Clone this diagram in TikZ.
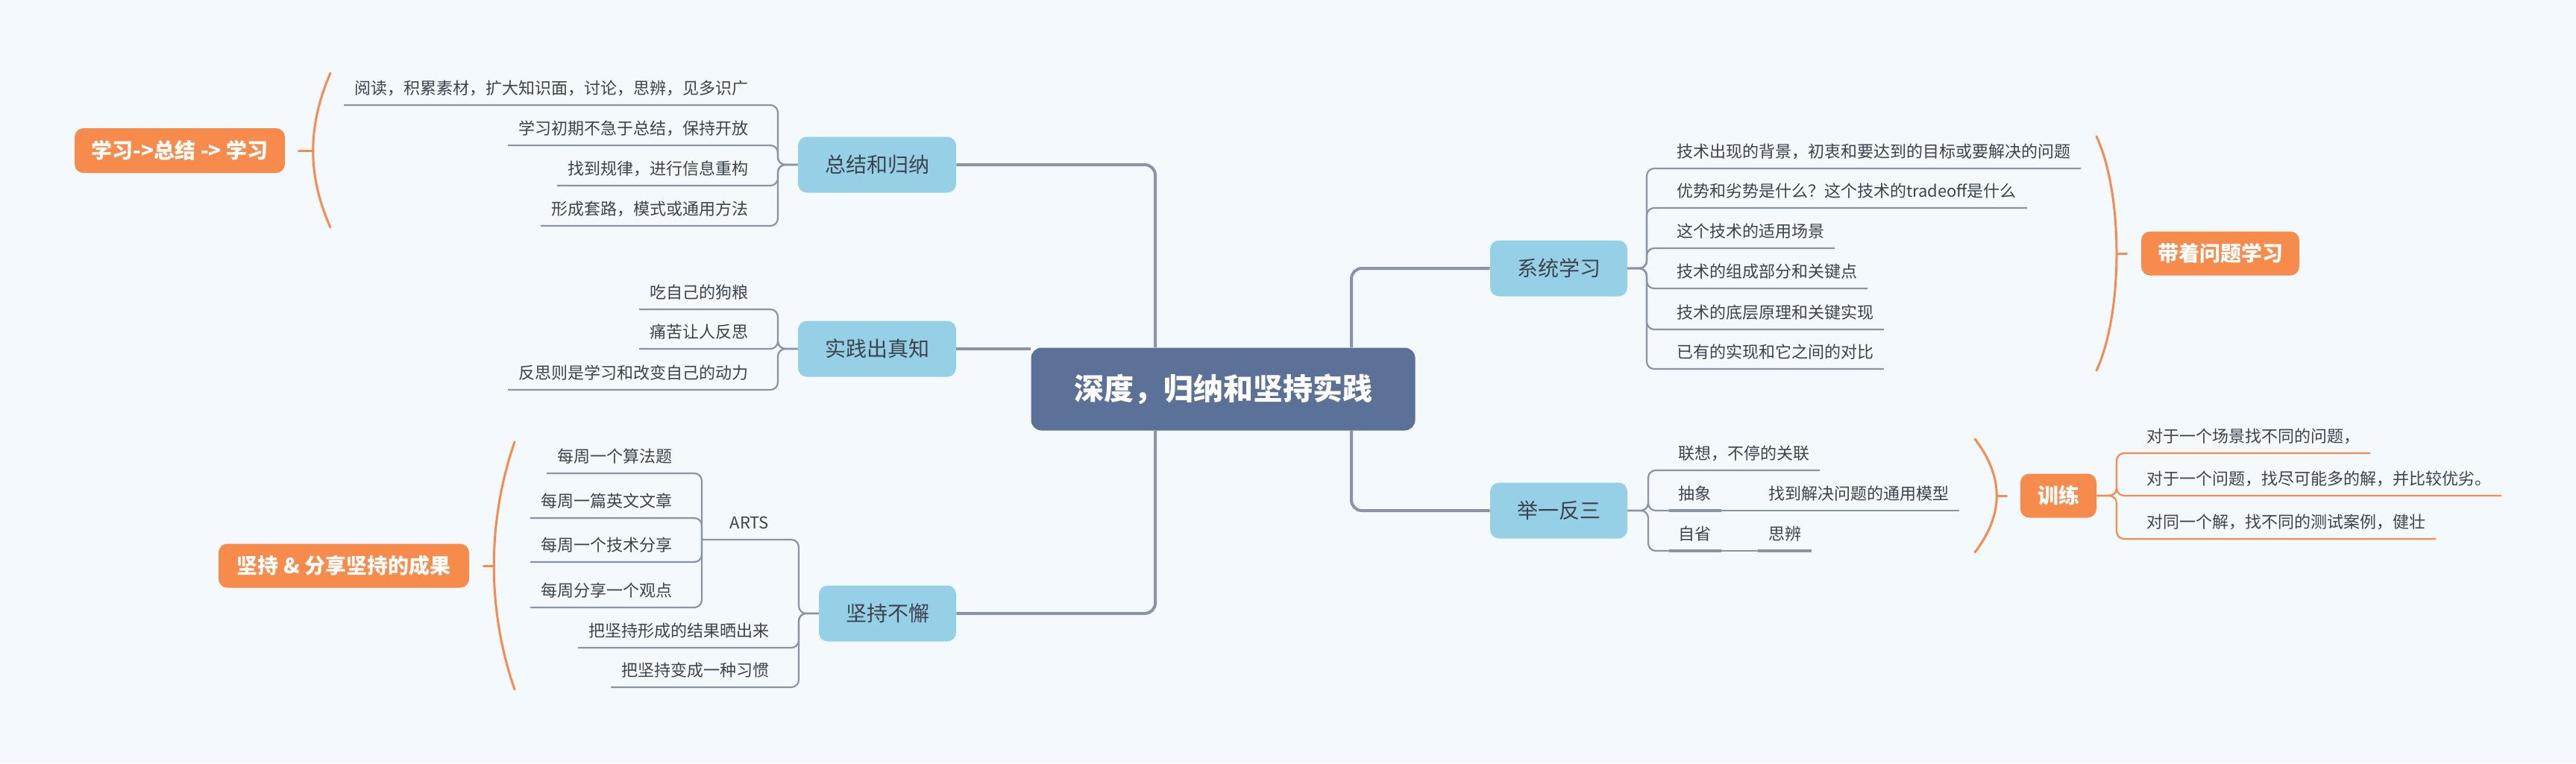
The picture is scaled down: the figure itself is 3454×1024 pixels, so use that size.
\documentclass[tikz,border=0pt]{standalone}
\usepackage{fontspec}
\setmainfont{Noto Sans CJK SC}
\definecolor{bg}{HTML}{F4F9FD}
\definecolor{linec}{HTML}{8A94A6}
\definecolor{centerc}{HTML}{5B7198}
\definecolor{bluec}{HTML}{96D0E6}
\definecolor{orangec}{HTML}{F78B4B}
\definecolor{textc}{HTML}{3C434E}
\tikzset{
  centernode/.style={rectangle, rounded corners=7pt, fill=centerc, text=white,
    font=\fontsize{20}{24}\selectfont\bfseries, minimum width=257.5pt, minimum height=55.5pt, inner sep=0pt},
  mainnode/.style={rectangle, rounded corners=6pt, fill=bluec, text=textc,
    font=\fontsize{14}{17}\selectfont, minimum height=37.5pt, inner sep=0pt},
  orangenode/.style={rectangle, rounded corners=6pt, fill=orangec, text=white,
    font=\fontsize{14}{17}\selectfont\bfseries, minimum height=29.5pt, inner sep=0pt},
  leaf/.style={rectangle, inner xsep=7pt, inner ysep=0pt, outer sep=0pt, text depth=7.5pt,
    text height=8.5pt, font=\fontsize{11}{13}\selectfont, text=textc},
  mainline/.style={draw=linec, line width=2pt, rounded corners=7pt},
  subline/.style={draw=linec, line width=1.1pt, rounded corners=5pt},
  orangeline/.style={draw=orangec, line width=1.1pt, rounded corners=5pt},
  bracket/.style={draw=orangec, line width=1.5pt, line cap=round},
}
\begin{document}
\begin{tikzpicture}[x=0.5pt,y=-0.5pt]
\fill[bg] (0,0) rectangle (3454,1024);
\useasboundingbox (0,0) rectangle (3454,1024);

% central and main nodes
\node[centernode] (center) at (1640,522) {深度，归纳和坚持实践};
\node[mainnode, minimum width=106pt] (zj) at (1176,221) {总结和归纳};
\node[mainnode, minimum width=106pt] (sj) at (1176,468) {实践出真知};
\node[mainnode, minimum width=92pt] (jc) at (1190,823) {坚持不懈};
\node[mainnode, minimum width=92pt] (xt) at (2090,360) {系统学习};
\node[mainnode, minimum width=92pt] (jy) at (2090,685) {举一反三};

% orange nodes
\node[orangenode, minimum width=141pt, minimum height=30pt] (o1) at (241,202) {学习->总结 -> 学习};
\node[orangenode, minimum width=168pt] (o2) at (461,759) {坚持 \& 分享坚持的成果};
\node[orangenode, minimum width=106pt] (o3) at (2977,340) {带着问题学习};
\node[orangenode, minimum width=51pt] (o4) at (2760,665) {训练};

% bar coordinates
\coordinate (cl) at (1549,0);
\coordinate (cr) at (1812,0);
\coordinate (zbar) at (1043,0);
\coordinate (jbar) at (1071,0);
\coordinate (xbar) at (2208,0);
\coordinate (ybar) at (2210,0);
\coordinate (lbar) at (2838,0);
\coordinate (artsL) at (941,724);

% main connectors
\draw[mainline] (zj.east) -| (center.north -| cl);
\draw[mainline] (sj.east) -- (sj.east -| center.west);
\draw[mainline] (jc.east) -| (center.south -| cl);
\draw[mainline] (xt.west) -| (center.north -| cr);
\draw[mainline] (jy.west) -| (center.south -| cr);

% 总结和归纳 leaves
\node[leaf, anchor=south east] (z1) at (1017,141) {阅读，积累素材，扩大知识面，讨论，思辨，见多识广};
\node[leaf, anchor=south east] (z2) at (1017,195) {学习初期不急于总结，保持开放};
\node[leaf, anchor=south east] (z3) at (1017,249) {找到规律，进行信息重构};
\node[leaf, anchor=south east] (z4) at (1017,303) {形成套路，模式或通用方法};
\foreach \c in {z1,z2,z3,z4}
  \draw[subline] (zj.west) -- (zj.west -| zbar) |- (\c.south east) -- (\c.south west);

% 实践出真知 leaves
\node[leaf, anchor=south east] (s1) at (1017,415) {吃自己的狗粮};
\node[leaf, anchor=south east] (s2) at (1017,468) {痛苦让人反思};
\node[leaf, anchor=south east] (s3) at (1017,523) {反思则是学习和改变自己的动力};
\foreach \c in {s1,s2,s3}
  \draw[subline] (sj.west) -- (sj.west -| zbar) |- (\c.south east) -- (\c.south west);

% 坚持不懈 leaves
\node[leaf, anchor=south east] (arts) at (1045,724) {ARTS};
\node[leaf, anchor=south east] (j2) at (1045,869) {把坚持形成的结果晒出来};
\node[leaf, anchor=south east] (j3) at (1045,922) {把坚持变成一种习惯};
\draw[subline] (jc.west) -- (jc.west -| jbar) |- (arts.south east) -- (artsL);
\foreach \c in {j2,j3}
  \draw[subline] (jc.west) -- (jc.west -| jbar) |- (\c.south east) -- (\c.south west);

% ARTS leaves
\node[leaf, anchor=south east] (a1) at (915,635) {每周一个算法题};
\node[leaf, anchor=south east] (a2) at (915,695) {每周一篇英文文章};
\node[leaf, anchor=south east] (a3) at (915,754) {每周一个技术分享};
\node[leaf, anchor=south east] (a4) at (915,815) {每周分享一个观点};
\foreach \c in {a1,a2,a3,a4}
  \draw[subline] (artsL) |- (\c.south east) -- (\c.south west);

% 系统学习 leaves
\node[leaf, anchor=south west] (x1) at (2234,226) {技术出现的背景，初衷和要达到的目标或要解决的问题};
\node[leaf, anchor=south west] (x2) at (2234,279) {优势和劣势是什么？这个技术的tradeoff是什么};
\node[leaf, anchor=south west] (x3) at (2234,333) {这个技术的适用场景};
\node[leaf, anchor=south west] (x4) at (2234,387) {技术的组成部分和关键点};
\node[leaf, anchor=south west] (x5) at (2234,442) {技术的底层原理和关键实现};
\node[leaf, anchor=south west] (x6) at (2234,495) {已有的实现和它之间的对比};
\foreach \c in {x1,x2,x3,x4,x5,x6}
  \draw[subline] (xt.east) -- (xt.east -| xbar) |- (\c.south west) -- (\c.south east);

% 举一反三 leaves
\node[leaf, anchor=south west] (y1) at (2236,631) {联想，不停的关联};
\node[leaf, anchor=south west] (y2) at (2236,685) {抽象};
\node[leaf, anchor=south west] (y3) at (2236,739) {自省};
\node[leaf, anchor=south west] (y2b) at (2357,685) {找到解决问题的通用模型};
\node[leaf, anchor=south west] (y3b) at (2357,739) {思辨};
\foreach \c in {y1,y2,y3}
  \draw[subline] (jy.east) -- (jy.east -| ybar) |- (\c.south west) -- (\c.south east);
\draw[subline] (y2.south east) -- (y2b.south west) -- (y2b.south east);
\draw[subline] (y3.south east) -- (y3b.south west) -- (y3b.south east);
\draw[draw=linec, line width=2pt] ([xshift=1pt]y2.south west) -- (y2.south east);
\draw[draw=linec, line width=2pt] ([xshift=1pt]y3.south west) -- (y3.south east);
\draw[draw=linec, line width=2pt] (y3b.south west) -- (y3b.south east);

% 训练 leaves
\node[leaf, anchor=south west] (l1) at (2864,608) {对于一个场景找不同的问题，};
\node[leaf, anchor=south west] (l2) at (2864,665) {对于一个问题，找尽可能多的解，并比较优劣。};
\node[leaf, anchor=south west] (l3) at (2864,723) {对同一个解，找不同的测试案例，健壮};
\foreach \c in {l1,l2,l3}
  \draw[orangeline] (o4.east) -- (o4.east -| lbar) |- (\c.south west) -- (\c.south east);

% brackets (summaries)
\draw[bracket] (443,98) .. controls (412,170) and (412,235) .. (443,305);
\coordinate (b1) at (420,202);
\draw[bracket] (b1) -- ([xshift=9pt]o1.east);
\draw[bracket] (690,593) .. controls (653,700) and (653,818) .. (690,925);
\coordinate (b2) at (662,759);
\draw[bracket] (b2) -- ([xshift=9.5pt]o2.east);
\draw[bracket] (2811,183) .. controls (2847,260) and (2847,420) .. (2811,497);
\coordinate (b3) at (2838,340);
\draw[bracket] (b3) -- ([xshift=-9.5pt]o3.west);
\draw[bracket] (2648,589) .. controls (2687,640) and (2687,690) .. (2648,741);
\coordinate (b4) at (2677,665);
\draw[bracket] (b4) -- ([xshift=-9pt]o4.west);
\end{tikzpicture}
\end{document}
